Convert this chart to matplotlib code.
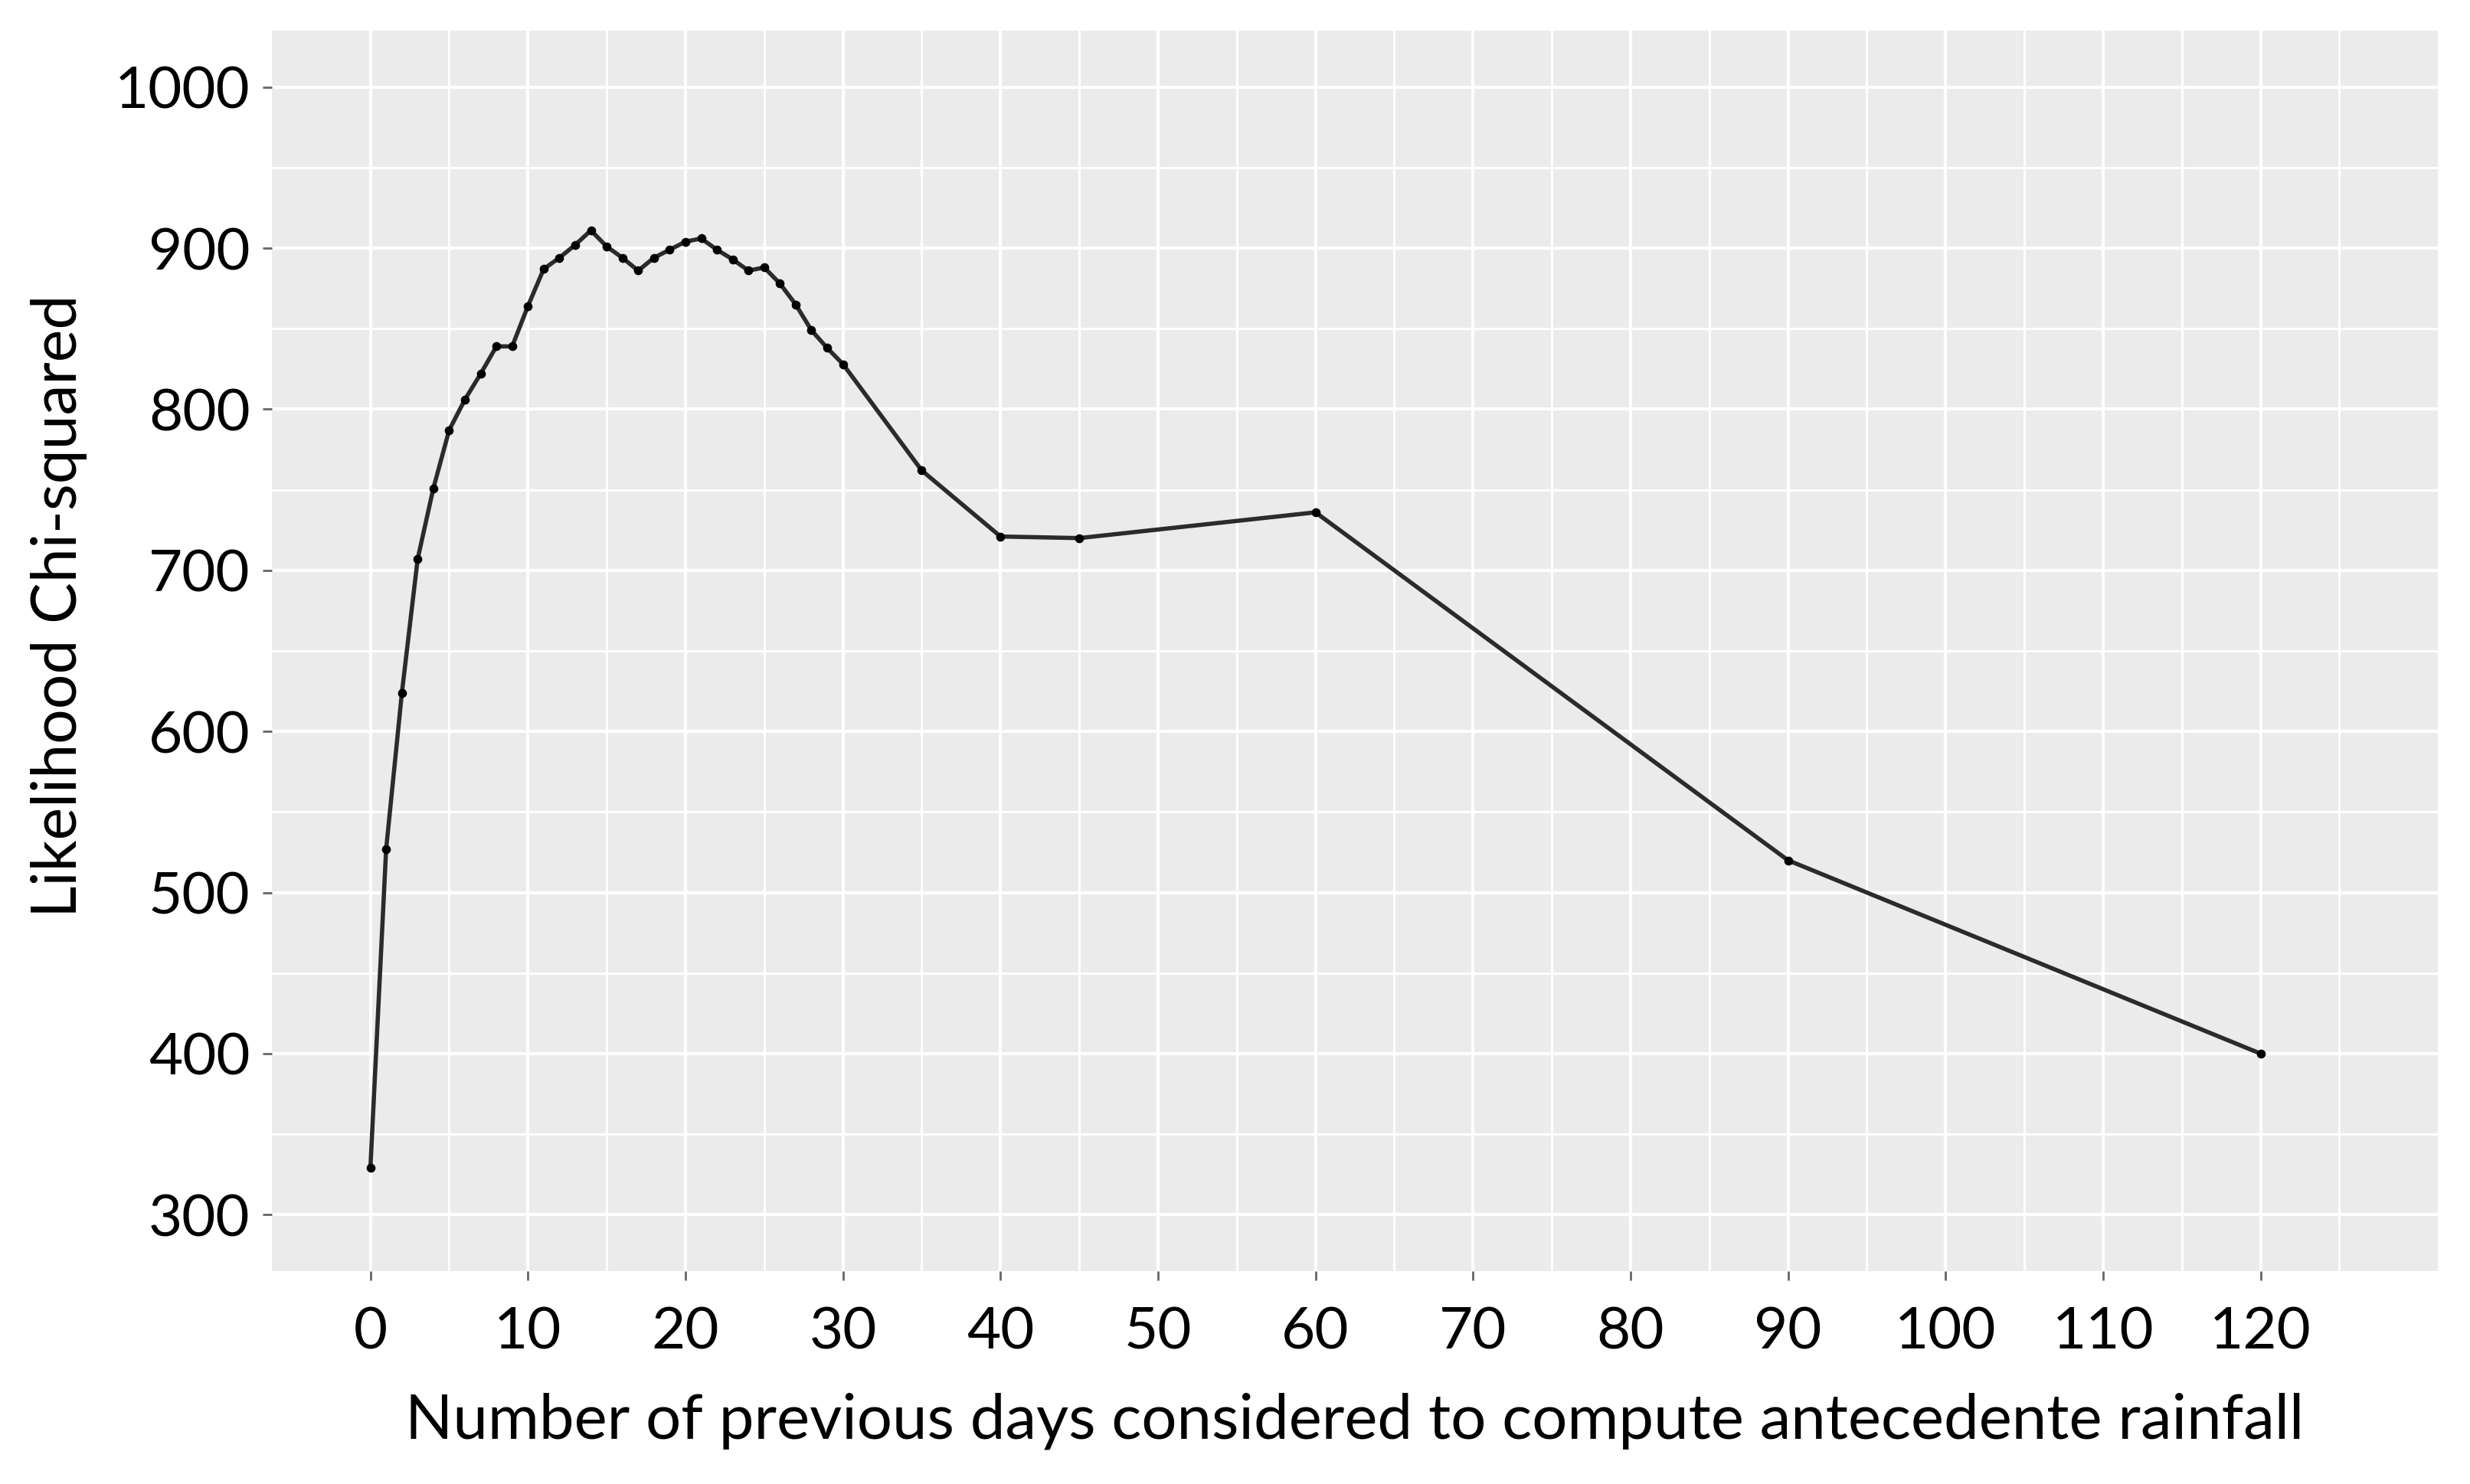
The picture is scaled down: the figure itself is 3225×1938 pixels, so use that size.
import matplotlib
matplotlib.use('Agg')
import matplotlib.pyplot as plt
import numpy as np

# Days of antecedent rainfall and the likelihood chi-squared values
days = [0, 1, 2, 3, 4, 5, 6, 7, 8, 9, 10, 11, 12, 13, 14, 15, 16, 17, 18, 19, 20,
        21, 22, 23, 24, 25, 26, 27, 28, 29, 30, 35, 40, 45, 60, 90, 120]
chi_squared = [329, 527, 624, 707, 751, 787, 806, 822, 839, 839, 864, 887, 894, 902, 911,
               901, 894, 886, 894, 899, 904, 906, 899, 893, 886, 888, 878, 865, 849, 838,
               828, 762, 721, 720, 736, 520, 400]

x_ticks = list(range(0, 121, 10))
y_ticks = list(range(300, 1001, 100))

plt.rcParams['font.family'] = ['Lato', 'DejaVu Sans']

fig = plt.figure(figsize=(16.125, 9.69), dpi=200)
ax = fig.add_axes([0.1101, 0.14345, 0.87688, 0.83591])
ax.set_facecolor('#EBEBEB')
for s in ax.spines.values():
    s.set_visible(False)

# ggplot-like grid: major and minor lines in white
ax.set_xticks(x_ticks)
ax.set_xticks(np.arange(5, 126, 10), minor=True)
ax.set_yticks(y_ticks)
ax.set_yticks(np.arange(350, 1000, 100), minor=True)
ax.grid(which='major', color='white', linewidth=1.5)
ax.grid(which='minor', color='white', linewidth=1.1)
ax.set_axisbelow(True)
ax.tick_params(which='minor', length=0)
ax.tick_params(which='major', length=4.3, width=1.0, color='#666666',
               labelsize=27.5, labelcolor='black', pad=6)
ax.tick_params(axis='x', which='major', pad=12)

ax.plot(days, chi_squared, color='#2b2b2b', linewidth=2.0, marker='o',
        markersize=3.2, markerfacecolor='black', markeredgecolor='black')

ax.set_xlim(-6.25, 131.25)
ax.set_ylim(265, 1035)

ax.set_xlabel('Number of previous days considered to compute antecedente rainfall', fontsize=29.4)
ax.set_ylabel('Likelihood Chi-squared', fontsize=29)
ax.xaxis.label.set_va('baseline')
ax.xaxis.set_label_coords(0.5, -0.1346)
ax.yaxis.label.set_va('center')
ax.yaxis.set_label_coords(-0.0983, 0.536)

plt.savefig('out.png', dpi=200)
